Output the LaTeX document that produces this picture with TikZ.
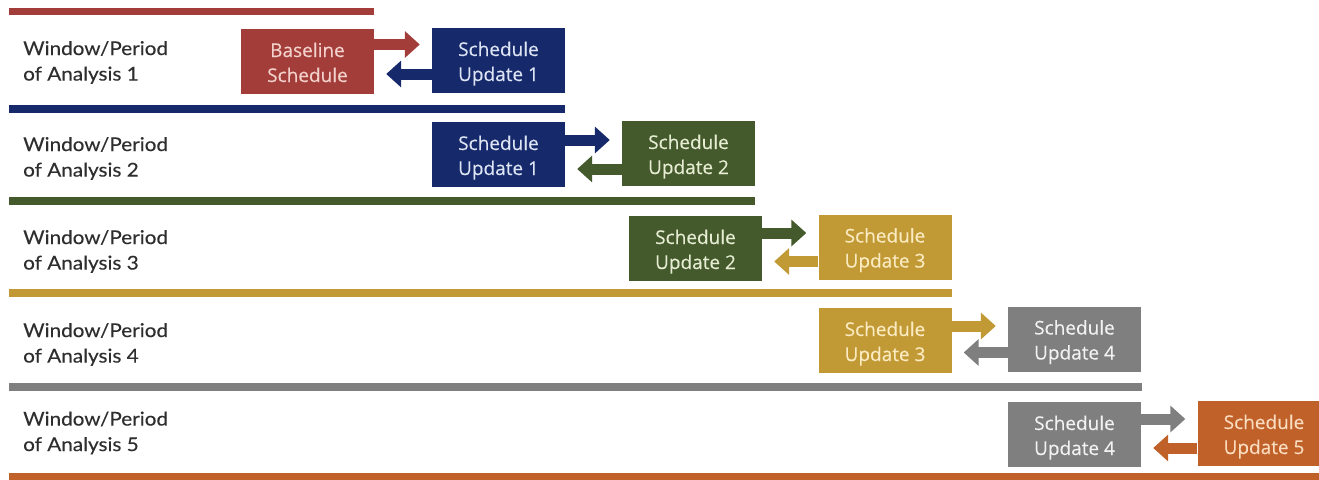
\documentclass[tikz,border=0pt]{standalone}
\usepackage{fontspec}
\setmainfont{Lato}
\newfontfamily\lblfont[FakeStretch=1.09,FakeBold=0.2]{Lato}
\newfontfamily\boxfont[FakeBold=0.25]{Open Sans}
\usetikzlibrary{arrows.meta}
\definecolor{cred}{HTML}{A33D3A}
\definecolor{cnavy}{HTML}{15296B}
\definecolor{cgreen}{HTML}{455A2C}
\definecolor{cgold}{HTML}{C29A35}
\definecolor{cgrey}{HTML}{7F7F7F}
\definecolor{corange}{HTML}{C1612A}
\definecolor{ctext}{HTML}{2E2E2E}
\definecolor{tred}{HTML}{F4D2CC}
\definecolor{tnavy}{HTML}{DDE4F3}
\definecolor{tgreen}{HTML}{E6EDD3}
\definecolor{tgold}{HTML}{FBEBC2}
\definecolor{tgrey}{HTML}{F2F2F2}
\definecolor{torange}{HTML}{FADCC0}
\newcommand\twol[2]{\rule{0pt}{21pt}#1\\#2\rule[-5pt]{0pt}{0pt}}
\newcommand\twolab[2]{\rule{0pt}{16pt}#1\\#2\rule[-5pt]{0pt}{0pt}}
\begin{document}
\begin{tikzpicture}[x=1pt,y=-1pt,
  sbox/.style={rectangle, inner sep=0pt, minimum width=133pt, minimum height=65pt,
    align=center, font=\boxfont\fontsize{19}{25}\selectfont},
  redbox/.style={sbox, fill=cred, text=tred},
  navybox/.style={sbox, fill=cnavy, text=tnavy},
  greenbox/.style={sbox, fill=cgreen, text=tgreen},
  goldbox/.style={sbox, fill=cgold, text=tgold},
  greybox/.style={sbox, fill=cgrey, text=tgrey},
  orangebox/.style={sbox, fill=corange, text=torange},
  lbl/.style={anchor=west, align=left, inner sep=0pt, text=ctext,
    font=\lblfont\fontsize{19}{25.5}\selectfont},
  conn/.style={line width=11pt, -{Triangle[width=26pt,length=15pt]}, shorten >=12pt},
]
\clip (0,0) rectangle (1319,479);
\fill[white] (0,0) rectangle (1319,479);

% separator bars
\fill[cred]    (9,7.5)  rectangle (374,14.5);
\fill[cnavy]   (9,105)  rectangle (565,113);
\fill[cgreen]  (9,197)  rectangle (755,205);
\fill[cgold]   (9,289)  rectangle (952,297);
\fill[cgrey]   (9,383)  rectangle (1142,391);
\fill[corange] (9,472.5)  rectangle (1319,481);

% labels
\node[lbl] (l1) at (23,62.3) {\twolab{Window/Period}{of Analysis 1}};
\node[lbl] (l2) at (23,158.3) {\twolab{Window/Period}{of Analysis 2}};
\node[lbl] (l3) at (23,251.3) {\twolab{Window/Period}{of Analysis 3}};
\node[lbl] (l4) at (23,344.3) {\twolab{Window/Period}{of Analysis 4}};
\node[lbl] (l5) at (23,432.8) {\twolab{Window/Period}{of Analysis 5}};

% row 1
\node[redbox]  (bs)  at (307.5,61.5) {\twol{Baseline}{Schedule}};
\node[navybox] (u1a) at (498.5,60.5) {\twol{Schedule}{Update 1}};
% row 2
\node[navybox]  (u1b) at (498.5,154.5) {\twol{Schedule}{Update 1}};
\node[greenbox] (u2a) at (688.5,153.5) {\twol{Schedule}{Update 2}};
% row 3
\node[greenbox] (u2b) at (695.5,248.5) {\twol{Schedule}{Update 2}};
\node[goldbox]  (u3a) at (885,247) {\twol{Schedule}{Update 3}};
% row 4
\node[goldbox]  (u3b) at (885,340.5) {\twol{Schedule}{Update 3}};
\node[greybox]  (u4a) at (1074.5,339) {\twol{Schedule}{Update 4}};
% row 5
\node[greybox]   (u4b) at (1074.5,434.5) {\twol{Schedule}{Update 4}};
\node[orangebox] (u5)  at (1264,433.5) {\twol{Schedule}{Update 5}};

% connectors
\draw[conn, cred]    ([yshift=17pt]bs.east)  -- ([yshift=17pt]bs.east -| u1a.west);
\draw[conn, cnavy]   ([yshift=-13.5pt]u1a.west) -- ([yshift=-13.5pt]u1a.west -| bs.east);
\draw[conn, cnavy]   ([yshift=14.5pt]u1b.east) -- ([yshift=14.5pt]u1b.east -| u2a.west);
\draw[conn, cgreen]  ([yshift=-15.5pt]u2a.west) -- ([yshift=-15.5pt]u2a.west -| u1b.east);
\draw[conn, cgreen]  ([yshift=15.5pt]u2b.east) -- ([yshift=15.5pt]u2b.east -| u3a.west);
\draw[conn, cgold]   ([yshift=-14.5pt]u3a.west) -- ([yshift=-14.5pt]u3a.west -| u2b.east);
\draw[conn, cgold]   ([yshift=14.5pt]u3b.east) -- ([yshift=14.5pt]u3b.east -| u4a.west);
\draw[conn, cgrey]   ([yshift=-13.5pt]u4a.west) -- ([yshift=-13.5pt]u4a.west -| u3b.east);
\draw[conn, cgrey]   ([yshift=15.5pt]u4b.east) -- ([yshift=15.5pt]u4b.east -| u5.west);
\draw[conn, corange] ([yshift=-14.5pt]u5.west) -- ([yshift=-14.5pt]u5.west -| u4b.east);
\end{tikzpicture}
\end{document}
